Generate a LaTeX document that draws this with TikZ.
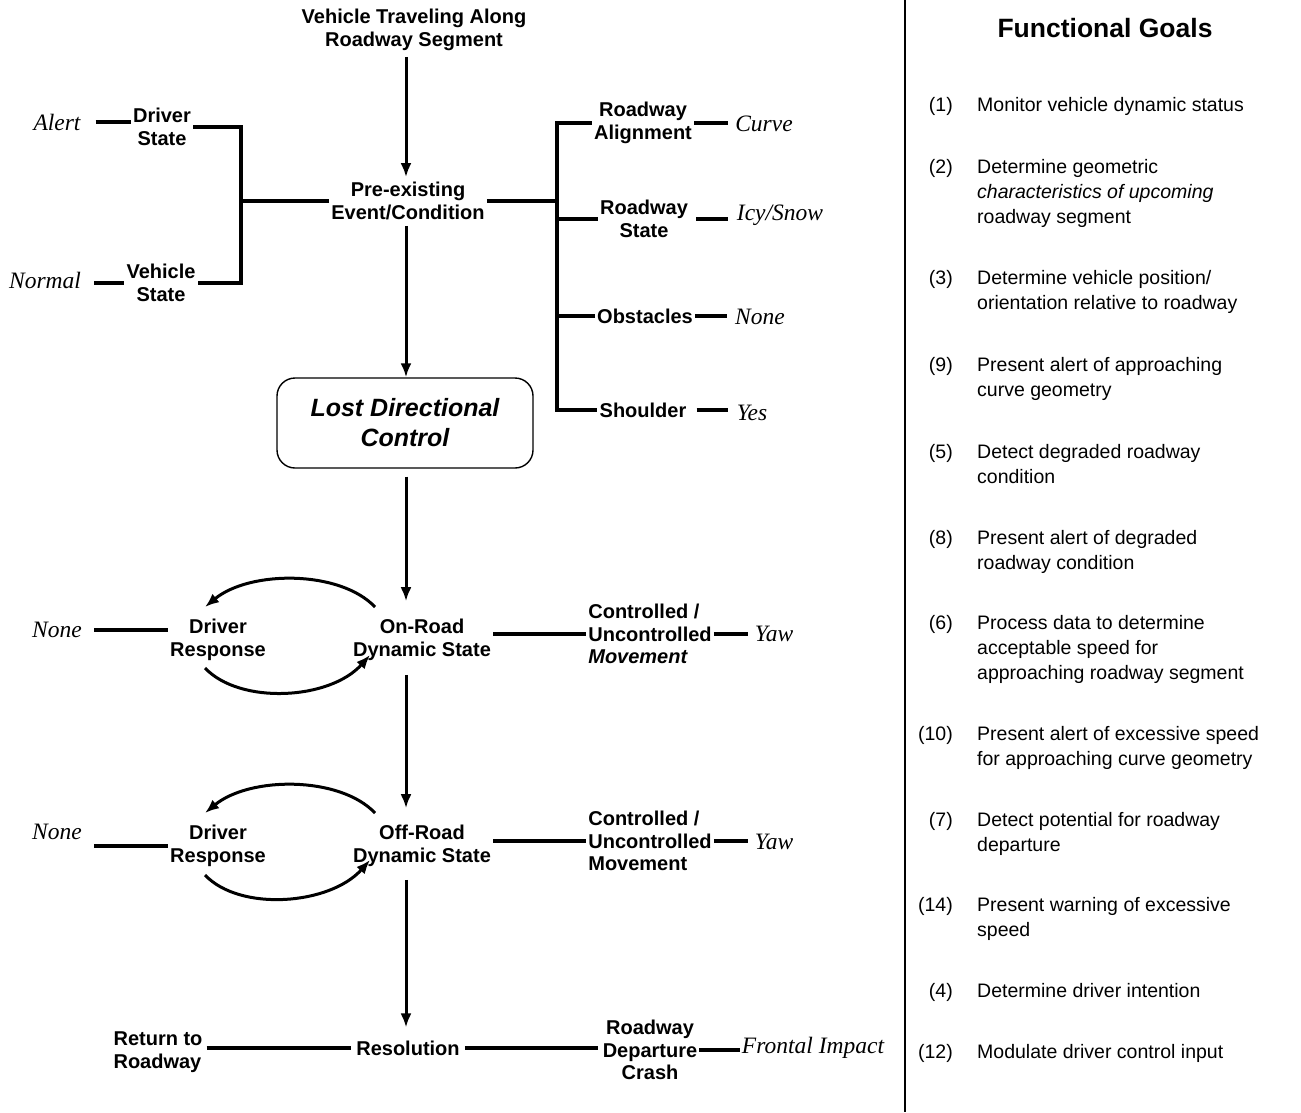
\documentclass[tikz,border=0pt]{standalone}
\usepackage{fontspec}
\setmainfont{Liberation Serif}
\setsansfont{Liberation Sans}
\usetikzlibrary{arrows.meta}
\begin{document}
\begin{tikzpicture}[x=1pt,y=-1pt,
  lbl/.style={font=\sffamily\bfseries\fontsize{20}{22.5}\selectfont, align=center, inner sep=2pt},
  val/.style={font=\rmfamily\itshape\fontsize{23.5}{26}\selectfont, inner sep=2pt},
  wire/.style={line width=3.4pt},
  arr/.style={line width=3pt, -{Latex[length=14pt,width=11pt]}},
  goal/.style={font=\sffamily\fontsize{19.5}{25}\selectfont, align=left, anchor=base west, inner sep=0pt},
  gnum/.style={font=\sffamily\fontsize{19.5}{25}\selectfont, anchor=base east, inner sep=0pt},
]
\useasboundingbox (0,0) rectangle (1301,1112);

% guide coordinates: main flow axis and the two brackets
\coordinate (spine) at (406,0);
\coordinate (lbx) at (241,0);
\coordinate (rbx) at (557,0);

% ---------- upper part: pre-existing conditions ----------
\node[lbl] (start) at (414,30) {Vehicle Traveling Along\\Roadway Segment};
\node[lbl] (pre) at (408,201) {Pre-existing\\Event/Condition};

\node[lbl] (drv) at (162,127) {Driver\\State};
\node[val] (alert) at (57,122) {Alert};
\node[lbl] (veh) at (161,283) {Vehicle\\State};
\node[val] (normal) at (45,280) {Normal};

\node[lbl] (ralign) at (643,123) {Roadway\\Alignment};
\node[val] (curve) at (764,124) {Curve};
\node[lbl] (rstate) at (644,219) {Roadway\\State};
\node[val] (icy) at (780,215) {Icy/Snow};
\node[lbl] (obst) at (645,316) {Obstacles};
\node[val] (nobst) at (760,317) {None};
\node[lbl] (shoulder) at (643,410) {Shoulder};
\node[val] (yes) at (752,413) {Yes};

\node[draw, rounded corners=18pt, minimum width=256pt, minimum height=90pt, line width=1.4pt,
  font=\sffamily\bfseries\itshape\fontsize{25}{30}\selectfont, align=center] (lost) at (405,423)
  {Lost Directional\\Control};

\draw[arr, shorten <=4pt, shorten >=3pt] (start.south -| spine) -- (pre.north -| spine);
\draw[arr, shorten <=4pt] (pre.south -| spine) -- (lost.north -| spine);

\draw[wire, shorten <=13pt] (alert.east) -- (alert.east -| drv.west);
\draw[wire, shorten <=11pt] (normal.east |- veh.west) -- (veh.west);
\draw[wire] (drv.east) -- (drv.east -| lbx) -- (veh.east -| lbx) -- (veh.east);
\draw[wire] (pre.west) -- (pre.west -| lbx);

\draw[wire] (pre.east) -- (pre.east -| rbx);
\draw[wire] (ralign.west) -- (ralign.west -| rbx) -- (shoulder.west -| rbx) -- (shoulder.west);
\draw[wire] (rstate.west) -- (rstate.west -| rbx);
\draw[wire] (obst.west) -- (obst.west -| rbx);

\draw[wire, shorten >=5pt] (ralign.east) -- (ralign.east -| curve.west);
\draw[wire, shorten <=6pt, shorten >=7pt] (rstate.east) -- (rstate.east -| icy.west);
\draw[wire, shorten >=6pt] (obst.east) -- (obst.east -| nobst.west);
\draw[wire, shorten <=8pt, shorten >=7pt] (shoulder.east) -- (shoulder.east -| yes.west);

% ---------- on-road stage ----------
\node[lbl] (onroad) at (422,640) {On-Road\\Dynamic State};
\node[lbl] (dr1) at (218,640) {Driver\\Response};
\node[val] (none1) at (57,630) {None};
\node[lbl, align=left] (ctrl1) at (650,634) {Controlled /\\Uncontrolled\\\textit{Movement}};
\node[val] (yaw1) at (774,634) {Yaw};

\draw[arr, shorten <=8pt, shorten >=16pt] (lost.south -| spine) -- (onroad.north -| spine);
\draw[wire, shorten <=10pt] (none1.east) -- (none1.east -| dr1.west);
\draw[wire] (onroad.east |- ctrl1.west) -- (ctrl1.west);
\draw[wire, shorten >=5pt] (ctrl1.east) -- (ctrl1.east -| yaw1.west);
\draw[arr] ([shift={(-47,-33)}]onroad.center) .. controls +(-35,-37) and +(45,-37) .. ([shift={(-13,-33)}]dr1.center);
\draw[arr] ([shift={(-13,28)}]dr1.center) .. controls +(35,37) and +(-40,45) .. ([shift={(-52,15)}]onroad.center);

% ---------- off-road stage ----------
\node[lbl] (offroad) at (422,846) {Off-Road\\Dynamic State};
\node[lbl] (dr2) at (218,846) {Driver\\Response};
\node[val] (none2) at (57,832) {None};
\node[lbl, align=left] (ctrl2) at (650,841) {Controlled /\\Uncontrolled\\Movement};
\node[val] (yaw2) at (774,842) {Yaw};

\draw[arr, shorten <=12pt, shorten >=15pt] (onroad.south -| spine) -- (offroad.north -| spine);
\draw[wire, shorten <=10pt] (none2.east |- dr2.west) -- (dr2.west);
\draw[wire] (offroad.east |- ctrl2.west) -- (ctrl2.west);
\draw[wire, shorten >=5pt] (ctrl2.east) -- (ctrl2.east -| yaw2.west);
\draw[arr] ([shift={(-47,-33)}]offroad.center) .. controls +(-35,-37) and +(45,-37) .. ([shift={(-13,-33)}]dr2.center);
\draw[arr] ([shift={(-13,29)}]dr2.center) .. controls +(35,37) and +(-40,45) .. ([shift={(-52,14)}]offroad.center);

% ---------- resolution ----------
\node[lbl] (res) at (408,1048) {Resolution};
\node[lbl, align=left] (ret) at (158,1052) {Return to\\Roadway};
\node[lbl] (crash) at (650,1050) {Roadway\\Departure\\Crash};
\node[val] (frontal) at (813,1048) {Frontal Impact};

\draw[arr, shorten <=11pt, shorten >=11pt] (offroad.south -| spine) -- (res.north -| spine);
\draw[wire, shorten <=2pt, shorten >=3pt] (ret.east |- res.west) -- (res.west);
\draw[wire, shorten <=3pt, shorten >=3pt] (res.east) -- (res.east -| crash.west);
\draw[wire] (crash.east) -- (crash.east -| frontal.west);

% ---------- functional goals column ----------
\draw[line width=1.4pt] (905,0) -- (905,1112);
\node[font=\sffamily\bfseries\fontsize{26.5}{30}\selectfont] (fg) at (1105,28) {Functional Goals};

% each goal text is placed by the baseline of its last line
\node[gnum] (n1) at (953,111) {(1)};
\node[goal] (g1) at (977,111) {Monitor vehicle dynamic status};
\node[gnum] (n2) at (953,173) {(2)};
\node[goal] (g2) at (977,223) {Determine geometric\\\textit{characteristics of upcoming}\\roadway segment};
\node[gnum] (n3) at (953,284) {(3)};
\node[goal] (g3) at (977,309) {Determine vehicle position/\\orientation relative to roadway};
\node[gnum] (n9) at (953,371) {(9)};
\node[goal] (g9) at (977,396) {Present alert of approaching\\curve geometry};
\node[gnum] (n5) at (953,458) {(5)};
\node[goal] (g5) at (977,483) {Detect degraded roadway\\condition};
\node[gnum] (n8) at (953,544) {(8)};
\node[goal] (g8) at (977,569) {Present alert of degraded\\roadway condition};
\node[gnum] (n6) at (953,629) {(6)};
\node[goal] (g6) at (977,679) {Process data to determine\\acceptable speed for\\approaching roadway segment};
\node[gnum] (n10) at (953,740) {(10)};
\node[goal] (g10) at (977,765) {Present alert of excessive speed\\for approaching curve geometry};
\node[gnum] (n7) at (953,826) {(7)};
\node[goal] (g7) at (977,851) {Detect potential for roadway\\departure};
\node[gnum] (n14) at (953,911) {(14)};
\node[goal] (g14) at (977,936) {Present warning of excessive\\speed};
\node[gnum] (n4) at (953,997) {(4)};
\node[goal] (g4) at (977,997) {Determine driver intention};
\node[gnum] (n12) at (953,1058) {(12)};
\node[goal] (g12) at (977,1058) {Modulate driver control input};
\end{tikzpicture}
\end{document}
